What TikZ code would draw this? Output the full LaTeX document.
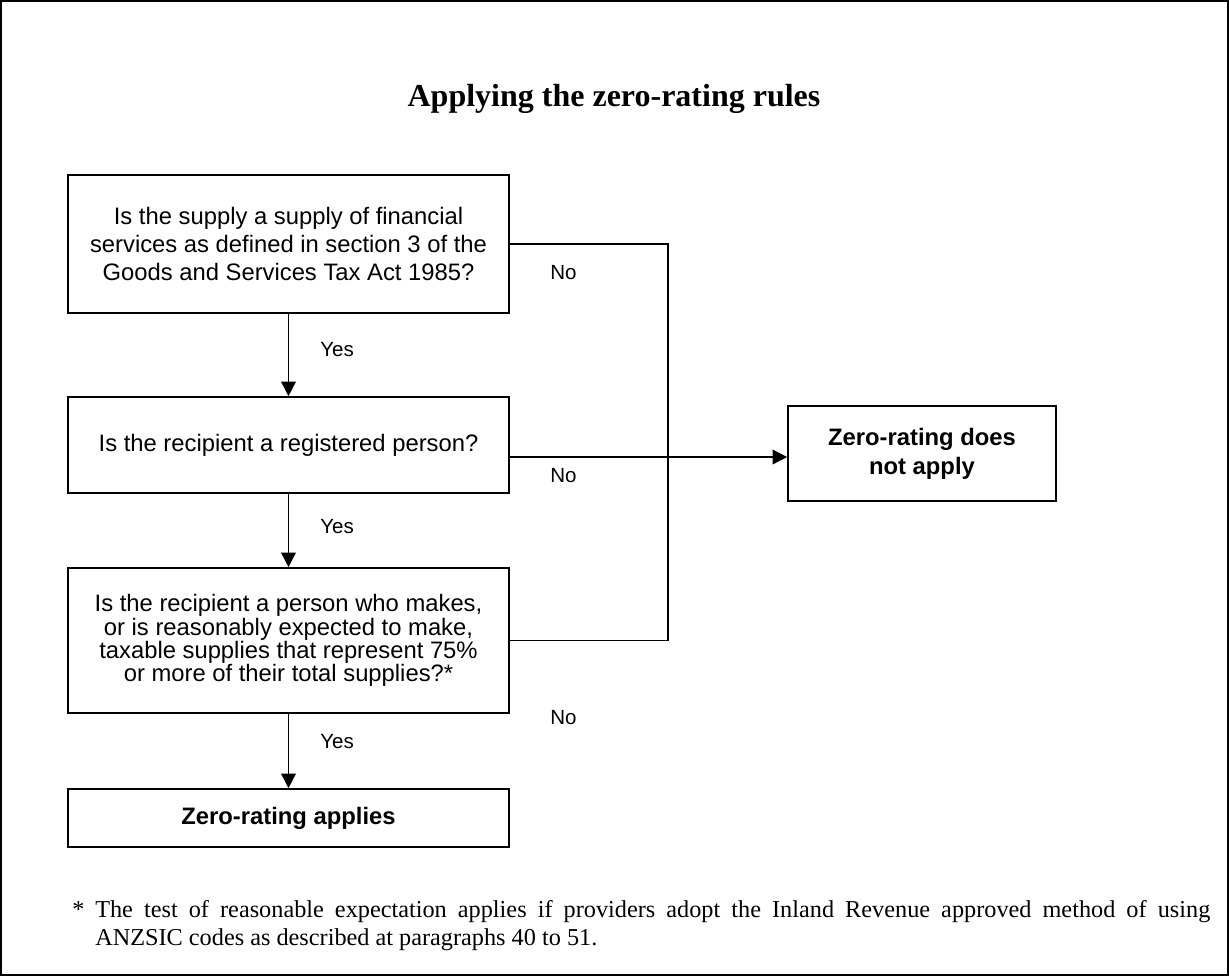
\documentclass[tikz,border=0pt]{standalone}
\usepackage{fontspec}
\setmainfont{Liberation Serif}
\newfontfamily\arialf{Liberation Sans}
\usetikzlibrary{arrows.meta,calc}
\begin{document}
\begin{tikzpicture}[x=0.75pt,y=-0.75pt,
  qbox/.style={draw, line width=1.2pt, inner sep=0pt, align=center,
    minimum width=330.75pt, font=\arialf\fontsize{17.85}{21}\selectfont},
  rbox/.style={qbox, font=\arialf\bfseries\fontsize{17.85}{21.75}\selectfont},
  lbl/.style={font=\arialf\fontsize{15.4}{18}\selectfont, inner sep=0pt, anchor=west},
  conn/.style={line width=1.1pt},
  arr/.style={line width=1.1pt, -{Triangle[length=11pt,width=11pt]}},
  fn/.style={anchor=base west, inner sep=0pt, font=\fontsize{18.2}{21}\selectfont}]
\useasboundingbox (0,0) rectangle (1229,976);
\draw[line width=0.9pt] (1,1) rectangle (1228,975);

\node[anchor=base, inner sep=0pt, font=\bfseries\fontsize{24}{28}\selectfont] (title) at (614,106) {Applying the zero-rating rules};

\node[qbox, minimum height=103.5pt] (b1) at (288.5,244) {Is the supply a supply of financial\\services as defined in section 3 of the\\Goods and Services Tax Act 1985?};
\node[qbox, minimum height=72pt] (b2) at (288.5,445) {Is the recipient a registered person?};
\node[qbox, minimum height=108.75pt, font=\arialf\fontsize{17.85}{17.4}\selectfont] (b3) at (288.5,640.5) {Is the recipient a person who makes,\\or is reasonably expected to make,\\taxable supplies that represent 75\%\\or more of their total supplies?*};
\node[rbox, minimum height=43.5pt] (b4) at (288.5,818) {Zero-rating applies};
\node[rbox, minimum width=201pt, minimum height=71.25pt] (nr) at (922,453.5) {Zero-rating does\\not apply};

\coordinate (j) at (668,300);
\draw[arr] (b1.south) -- (b2.north);
\draw[arr] (b2.south) -- (b3.north);
\draw[arr] (b3.south) -- (b4.north);
\draw[conn] (b1.east) -- (b1.east -| j) -- (b3.east -| j) -- (b3.east);
\draw[arr] ([yshift=-9pt]b2.east) -- ([yshift=-9pt]b2.east -| nr.west);

\node[lbl] (y1) at (320,350) {Yes};
\node[lbl] (y2) at (320,527) {Yes};
\node[lbl] (y3) at (320,742) {Yes};
\node[lbl] (n1) at (550,273) {No};
\node[lbl] (n2) at (550,476) {No};
\node[lbl] (n3) at (550,718) {No};

\node[fn] (star) at (72,917) {*};
\node[fn] (fn1) at (95,917) {\makebox[836.25pt][s]{The test of reasonable expectation applies if providers adopt the Inland Revenue approved method of using}};
\node[fn] (fn2) at (95,945) {ANZSIC codes as described at paragraphs 40 to 51.};
\end{tikzpicture}
\end{document}
